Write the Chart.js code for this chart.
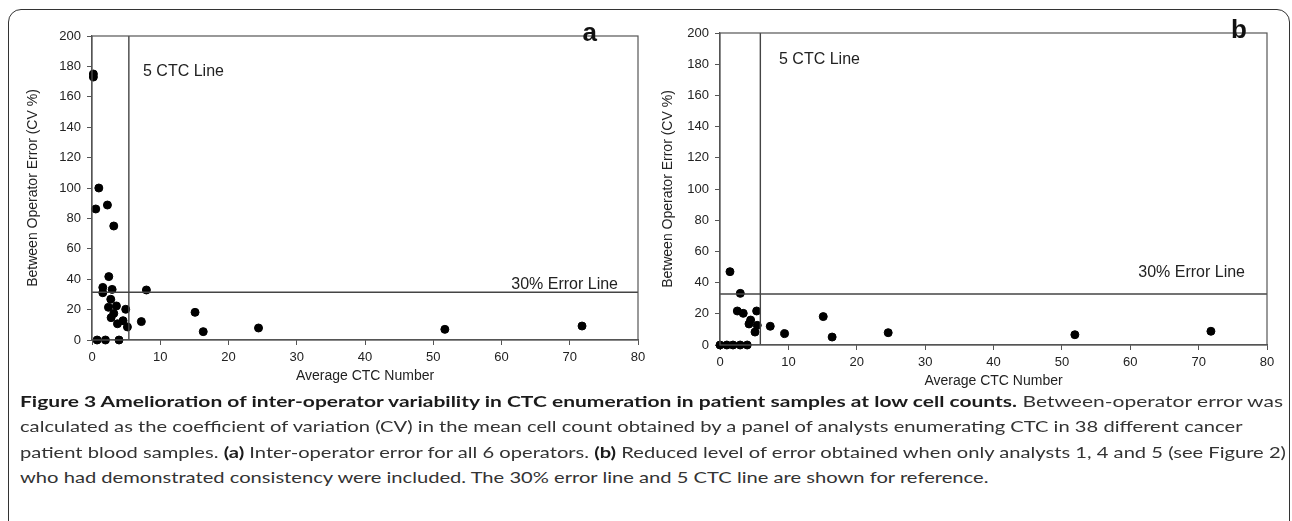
<!DOCTYPE html>
<html><head><meta charset="utf-8">
<script src="https://cdn.jsdelivr.net/npm/chart.js@4/dist/chart.umd.min.js"></script>
<style>
html,body{margin:0;padding:0;background:#fff;width:1292px;height:521px;overflow:hidden;position:relative;}
#frame{position:absolute;left:8px;top:9px;width:1282px;height:620px;border:1.6px solid #333;border-radius:13px;box-sizing:border-box;}
.pan{position:absolute;top:0;height:400px;}
#pa{left:0;width:660px;}
#pb{left:660px;width:632px;}
.ln{position:absolute;left:20px;white-space:nowrap;font-family:'Lato','Open Sans',sans-serif;font-size:16px;line-height:20px;color:#333;transform-origin:0 0;}
.ln b{color:#1b1b1b;font-weight:700;}
</style></head>
<body>
<div id="frame"></div>
<div class="pan" id="pa"><canvas id="ca"></canvas></div>
<div class="pan" id="pb"><canvas id="cb"></canvas></div>
<div class="ln" id="l1"><b>Figure 3 Amelioration of inter-operator variability in CTC enumeration in patient samples at low cell counts.</b> Between-operator error was</div>
<div class="ln" id="l2">calculated as the coefficient of variation (CV) in the mean cell count obtained by a panel of analysts enumerating CTC in 38 different cancer</div>
<div class="ln" id="l3">patient blood samples. <b>(a)</b> Inter-operator error for all 6 operators. <b>(b)</b> Reduced level of error obtained when only analysts 1, 4 and 5 (see Figure 2)</div>
<div class="ln" id="l4">who had demonstrated consistency were included. The 30% error line and 5 CTC line are shown for reference.</div>
<script>
// ---- data ----
const xTicks = [0, 10, 20, 30, 40, 50, 60, 70, 80];
const yTicks = [0, 20, 40, 60, 80, 100, 120, 140, 160, 180, 200];

const aX = [0.2, 0.2, 1.0, 0.55, 2.26, 3.19, 2.46, 1.58, 2.95, 1.58, 7.97, 2.75, 2.41, 3.58, 4.94, 3.19, 2.8, 4.55, 3.73, 5.19, 7.23, 0.75, 1.97, 3.96, 15.1, 16.3, 24.4, 51.7, 71.8];
const aY = [175, 173, 100, 86.2, 88.8, 75, 41.7, 34.6, 33.3, 31.1, 32.9, 26.8, 21.5, 22.4, 20.2, 17.5, 14.7, 12.7, 10.7, 8.6, 12.1, 0, 0, 0, 18.2, 5.5, 7.9, 7.0, 9.2];

const bX = [1.46, 2.97, 2.53, 3.4, 5.36, 4.48, 4.24, 5.45, 5.12, 7.35, 9.45, 15.1, 16.4, 24.6, 51.9, 71.8, 0, 1.0, 1.9, 2.95, 3.98];
const bY = [47, 33.1, 21.8, 20.3, 21.8, 16, 13.5, 12.6, 8.3, 12, 7.3, 18.2, 5.1, 7.9, 6.6, 8.8, 0, 0, 0, 0, 0];

const aCtcLine = 5.4, aErrLine = 31.4;
const bCtcLine = 5.9, bErrLine = 32.7;

const xTitle = 'Average CTC Number';
const yTitle = 'Between Operator Error (CV %)';
const ctcLabel = '5 CTC Line';
const errLabel = '30% Error Line';

// ---- chart ----
const FONT = "'Liberation Sans', Arial, sans-serif";
Chart.defaults.font.family = FONT;
Chart.defaults.color = '#222';

const deco = {
  id: 'deco',
  afterDraw(chart, args, o) {
    const {ctx, chartArea: a} = chart;
    ctx.save();
    ctx.strokeStyle = '#555';
    ctx.lineWidth = 1.2;
    ctx.strokeRect(a.left, a.top, a.right - a.left, a.bottom - a.top);
    ctx.fillStyle = '#222';
    ctx.font = '16px ' + FONT;
    ctx.textBaseline = 'alphabetic';
    ctx.textAlign = 'left';
    ctx.fillText(ctcLabel, a.left + o.ctcDx, a.top + o.ctcDy);
    ctx.textAlign = 'right';
    ctx.fillText(errLabel, a.right - o.errDx, chart.scales.y.getPixelForValue(o.err) - o.errDy);
    ctx.font = 'bold 26px ' + FONT;
    ctx.fillStyle = '#111';
    ctx.fillText(o.letter, a.right - o.letDx, a.top + o.letDy);
    ctx.restore();
  }
};

function makeChart(id, xs, ys, ctc, err, yAxisW, xAxisH, pad, ytPad, xtPad, decoOpts) {
  const pts = xs.map((x, i) => ({x, y: ys[i]}));
  return new Chart(document.getElementById(id), {
    type: 'scatter',
    data: {
      datasets: [
        {data: [{x: ctc, y: 0}, {x: ctc, y: 200}], type: 'line', showLine: true, borderColor: '#444', borderWidth: 1.4, pointRadius: 0, fill: false},
        {data: [{x: 0, y: err}, {x: 80, y: err}], type: 'line', showLine: true, borderColor: '#444', borderWidth: 1.4, pointRadius: 0, fill: false},
        {data: pts, backgroundColor: '#000', borderColor: '#000', pointRadius: 4, pointHoverRadius: 4, clip: false}
      ]
    },
    options: {
      responsive: true, maintainAspectRatio: false, animation: false,
      layout: {padding: pad},
      plugins: {legend: {display: false}, tooltip: {enabled: false}, deco: decoOpts},
      scales: {
        x: {
          type: 'linear', min: 0, max: 80,
          afterBuildTicks: s => { s.ticks = xTicks.map(v => ({value: v})); },
          afterFit: s => { s.height = xAxisH; },
          grid: {drawOnChartArea: false, drawTicks: true, tickLength: 5, color: '#555'},
          border: {display: true, color: '#555', width: 1.2},
          ticks: {font: {size: 13}, padding: 5, maxRotation: 0, color: '#222'},
          title: {display: true, text: xTitle, font: {size: 14}, color: '#222', padding: {top: 0, bottom: xtPad}}
        },
        y: {
          type: 'linear', min: 0, max: 200,
          afterBuildTicks: s => { s.ticks = yTicks.map(v => ({value: v})); },
          afterFit: s => { s.width = yAxisW; },
          grid: {drawOnChartArea: false, drawTicks: true, tickLength: 5, color: '#555'},
          border: {display: true, color: '#555', width: 1.2},
          ticks: {font: {size: 13}, padding: 6, color: '#222'},
          title: {display: true, text: yTitle, font: {size: 14}, color: '#222', padding: {top: ytPad, bottom: 0}}
        }
      }
    },
    plugins: [deco]
  });
}

makeChart('ca', aX, aY, aCtcLine, aErrLine, 92, 60, {left: 0, top: 36, right: 22, bottom: 0}, 25, 15,
  {ctcDx: 51, ctcDy: 40, err: aErrLine, errDx: 20, errDy: 3, letter: 'a', letDx: 41, letDy: 5});
makeChart('cb', bX, bY, bCtcLine, bErrLine, 60, 55, {left: 0, top: 33, right: 25, bottom: 0}, 0, 10,
  {ctcDx: 59, ctcDy: 31, err: bErrLine, errDx: 22, errDy: 17, letter: 'b', letDx: 20, letDy: 5});

// ---- caption layout ----
const base = [407, 432, 458, 483];
const ids = ['l1', 'l2', 'l3', 'l4'];
ids.forEach((id, i) => { document.getElementById(id).style.top = (base[i] - 16) + 'px'; });
const el = id => document.getElementById(id);
const f1 = 1263 / el('l1').getBoundingClientRect().width;
const f3 = 1266 / el('l3').getBoundingClientRect().width;
el('l1').style.transform = 'scaleX(' + f1 + ')';
['l2', 'l3', 'l4'].forEach(id => { el(id).style.transform = 'scaleX(' + f3 + ')'; });
</script>
</body></html>
